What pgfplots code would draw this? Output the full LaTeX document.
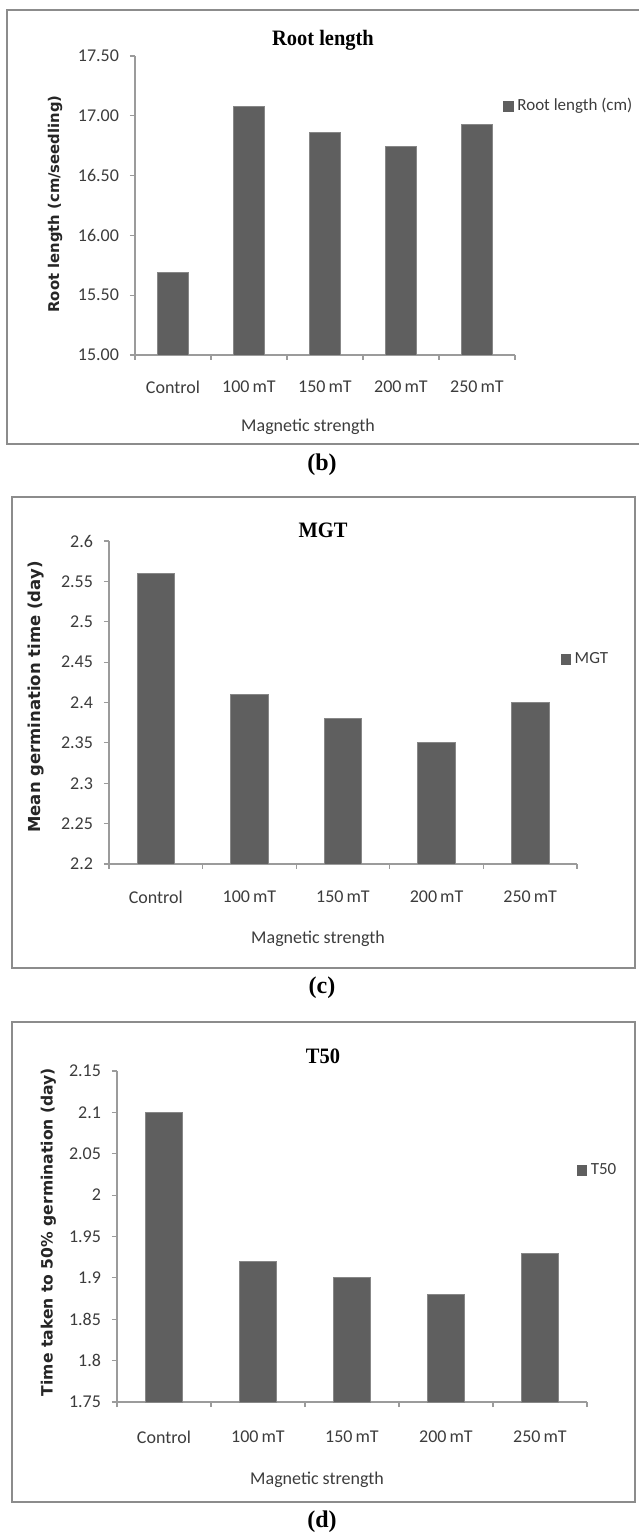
\documentclass[border=0pt]{standalone}
\usepackage{fontspec}
\setmainfont{Carlito}
\newfontfamily\titlef[FakeStretch=0.93]{Liberation Serif}
\newfontfamily\capf{Liberation Serif}
\newfontfamily\ylabf{DejaVu Sans}
\usepackage{pgfplots}
\pgfplotsset{compat=1.18}
\definecolor{barfill}{RGB}{95,95,95}
\definecolor{baredge}{RGB}{135,135,135}
\definecolor{axgray}{RGB}{155,155,155}
\definecolor{boxgray}{RGB}{140,140,140}
\definecolor{txtgray}{RGB}{60,60,60}
\pgfplotsset{
  mybar/.style={
    scale only axis,
    anchor=south west,
    ybar, bar width=0.4,
    xmin=-0.5, xmax=4.5,
    axis x line*=bottom, axis y line*=left,
    axis line style={draw=axgray, line width=0.6pt},
    tick style={draw=axgray, line width=0.6pt},
    tick align=outside,
    major tick length=2.5pt,
    xtick={-0.5,0.5,1.5,2.5,3.5,4.5},
    xticklabels={},
    extra x ticks={0,1,2,3,4},
    extra x tick labels={Control,100\,mT,150\,mT,200\,mT,250\,mT},
    extra x tick style={major tick length=0pt},
    ticklabel style={font=\fontsize{9}{10}\selectfont, text=txtgray},
    xticklabel style={anchor=center, yshift=-16pt},
    yticklabel style={anchor=east, xshift=-2pt},
    legend style={draw=none, fill=none, inner sep=0pt, anchor=west,
      font=\fontsize{8.5}{9.5}\selectfont, text=txtgray},
    legend cell align=left,
  },
  barsty/.style={fill=barfill, draw=baredge, line width=0.4pt,
    legend image code/.code={\fill[barfill] (0pt,-2.5pt) rectangle (4.7pt,2.5pt);}},
}
\begin{document}
\begin{tikzpicture}
\useasboundingbox (0,0) rectangle (319pt,766.5pt);
% ---------------- panel (b)
\draw[boxgray, line width=0.9pt] (3.5pt,544.5pt) rectangle (322pt,761.5pt);
\begin{axis}[mybar, at={(67.5pt,589pt)}, width=190pt, height=149.5pt,
  ymin=15, ymax=17.5, ytick={15,15.5,16,16.5,17,17.5},
  yticklabels={15.00,15.50,16.00,16.50,17.00,17.50},
  legend style={at={(0.968,0.833)}}]
\addplot[barsty] coordinates {(0,15.69) (1,17.08) (2,16.86) (3,16.74) (4,16.93)};
\addlegendentry{Root length (cm)}
\end{axis}
\node[font=\titlef\bfseries\fontsize{11}{12}\selectfont] at (161.5pt,746.5pt) {Root length};
\node[rotate=90, font=\ylabf\bfseries\fontsize{7.4}{8}\selectfont, text=black!85] at (27.5pt,664.5pt) {Root length (cm/seedling)};
\node[anchor=base, font=\fontsize{9}{10}\selectfont, text=txtgray] at (154pt,550.5pt) {Magnetic strength};
\node[font=\capf\bfseries\fontsize{12}{13}\selectfont] at (161pt,534pt) {(b)};
% ---------------- panel (c)
\draw[boxgray, line width=0.9pt] (6pt,282.5pt) rectangle (317.5pt,518pt);
\begin{axis}[mybar, at={(54.5pt,334.5pt)}, width=234pt, height=161.5pt,
  ymin=2.2, ymax=2.6, ytick={2.2,2.25,2.3,2.35,2.4,2.45,2.5,2.55,2.6},
  yticklabels={2.2,2.25,2.3,2.35,2.4,2.45,2.5,2.55,2.6},
  xticklabel style={yshift=-0.5pt},
  legend style={at={(0.964,0.632)}}]
\addplot[barsty] coordinates {(0,2.56) (1,2.41) (2,2.38) (3,2.35) (4,2.40)};
\addlegendentry{MGT}
\end{axis}
\node[font=\titlef\bfseries\fontsize{11}{12}\selectfont] at (161.5pt,501.5pt) {MGT};
\node[rotate=90, font=\ylabf\bfseries\fontsize{8.25}{9}\selectfont, text=black!85] at (18pt,418pt) {Mean germination time (day)};
\node[anchor=base, font=\fontsize{9}{10}\selectfont, text=txtgray] at (159pt,294.5pt) {Magnetic strength};
\node[font=\capf\bfseries\fontsize{12}{13}\selectfont] at (161pt,272.5pt) {(c)};
% ---------------- panel (d)
\draw[boxgray, line width=0.9pt] (6pt,15.5pt) rectangle (317.5pt,255.5pt);
\begin{axis}[mybar, at={(58.5pt,65.5pt)}, width=235pt, height=165.5pt,
  ymin=1.75, ymax=2.15, ytick={1.75,1.8,1.85,1.9,1.95,2,2.05,2.1,2.15},
  yticklabels={1.75,1.8,1.85,1.9,1.95,2,2.05,2.1,2.15},
  xticklabel style={yshift=-1.5pt},
  legend style={at={(0.977,0.70)}}]
\addplot[barsty] coordinates {(0,2.10) (1,1.92) (2,1.90) (3,1.88) (4,1.93)};
\addlegendentry{T50}
\end{axis}
\node[font=\titlef\bfseries\fontsize{11}{12}\selectfont] at (161.5pt,238.5pt) {T50};
\node[rotate=90, font=\ylabf\bfseries\fontsize{7.8}{8.5}\selectfont, text=black!85] at (24.25pt,150.5pt) {Time taken to 50\% germination (day)};
\node[anchor=base, font=\fontsize{9}{10}\selectfont, text=txtgray] at (158.5pt,24pt) {Magnetic strength};
\node[font=\capf\bfseries\fontsize{12}{13}\selectfont] at (161pt,5.5pt) {(d)};
\end{tikzpicture}
\end{document}
